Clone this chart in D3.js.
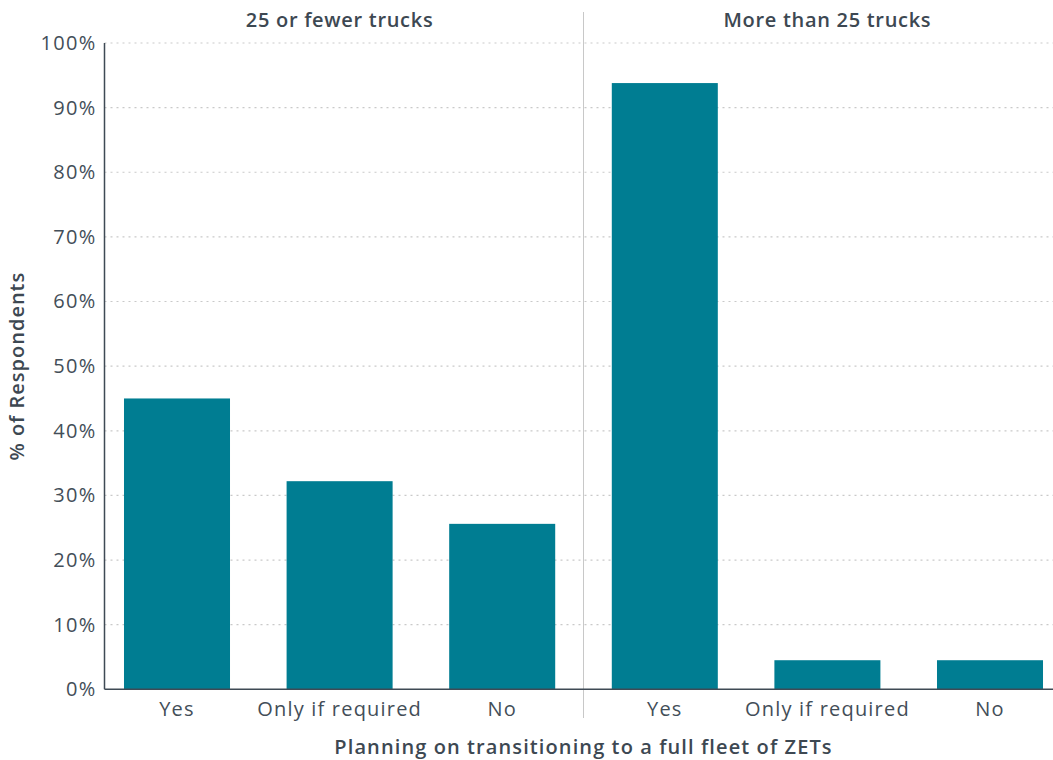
<!DOCTYPE html>
<html><head><meta charset="utf-8">
<script src="https://cdn.jsdelivr.net/npm/d3@7/dist/d3.min.js"></script>
<style>body{margin:0;background:#fff}svg{display:block}text{font-family:"Open Sans",sans-serif}</style>
</head><body><svg id="c" width="1053" height="760"></svg>
<script>
const groups = ["25 or fewer trucks", "More than 25 trucks"];
const answers = ["Yes", "Only if required", "No"];
const valuesSmall = [45.0, 32.2, 25.6];
const valuesLarge = [93.8, 4.5, 4.5];
const yTicks = [0,10,20,30,40,50,60,70,80,90,100];

const data = [];
groups.forEach((g,gi)=>answers.forEach((a,ai)=>data.push({g, a, key:g+"|"+a, v: gi===0?valuesSmall[ai]:valuesLarge[ai]})));

const svg = d3.select("#c");
const W = 1053, H = 760;
const x0 = 104.5, plotTop = 43, plotBottom = 689.3;
const textCol = "#434e58", boldCol = "#3d4852";
const x = d3.scaleBand().domain(data.map(d=>d.key)).range([95.7, 1071.3]).paddingInner(0.348).paddingOuter(0.174);
const y = d3.scaleLinear().domain([0,100]).range([plotBottom, plotTop]);

// gridlines
svg.append("g").selectAll("line").data(yTicks.filter(t=>t>0)).join("line")
  .attr("x1", x0).attr("x2", W).attr("y1", d=>y(d)).attr("y2", d=>y(d))
  .attr("stroke", "#c9c9c9").attr("stroke-width", 1.2).attr("stroke-dasharray", "2,4");

// separator
const sepX = (x(data[2].key)+x.bandwidth() + x(data[3].key))/2;
svg.append("line").attr("x1", sepX).attr("x2", sepX).attr("y1", 12).attr("y2", 718)
  .attr("stroke", "#c8c8c8").attr("stroke-width", 1);

// bars
svg.append("g").selectAll("rect").data(data).join("rect")
  .attr("x", d=>x(d.key)).attr("width", x.bandwidth())
  .attr("y", d=>y(d.v)).attr("height", d=>plotBottom - y(d.v))
  .attr("fill", "#007d92");

// y axis
const ya = svg.append("g").attr("transform", `translate(${x0},0)`)
  .call(d3.axisLeft(y).tickValues(yTicks).tickFormat(d=>d+"%").tickSize(0).tickPadding(8));
ya.select(".domain").attr("stroke", "#3f4a55").attr("stroke-width", 1.5).attr("d", `M0,${plotTop}V${plotBottom}`);
ya.selectAll("text").attr("font-size", 20).attr("letter-spacing", "1.3px").attr("fill", textCol).attr("font-family", "'Open Sans',sans-serif");

// x axis
const xa = svg.append("g").attr("transform", `translate(0,${plotBottom})`)
  .call(d3.axisBottom(x).tickFormat(k=>k.split("|")[1]).tickSize(0).tickPadding(13));
xa.select(".domain").attr("stroke", "#3f4a55").attr("stroke-width", 1.5).attr("d", `M${x0},0H${W}`);
xa.selectAll("text").attr("font-size", 20).attr("letter-spacing", "1.2px").attr("fill", textCol).attr("font-family", "'Open Sans',sans-serif");

// group titles
groups.forEach((g,gi)=>{
  const k = data[gi*3+1].key;
  svg.append("text").attr("x", x(k)+x.bandwidth()/2).attr("y", 27).attr("text-anchor","middle")
    .attr("font-size", 20).attr("letter-spacing", "0.7px").attr("font-weight", 600).attr("fill", boldCol).text(g);
});

// axis titles
svg.append("text").attr("x", sepX).attr("y", 754).attr("text-anchor","middle")
  .attr("font-size", 20).attr("letter-spacing", "1.1px").attr("font-weight", 600).attr("fill", boldCol)
  .text("Planning on transitioning to a full fleet of ZETs");
svg.append("text").attr("transform", `translate(24,${(plotTop+plotBottom)/2}) rotate(-90)`).attr("text-anchor","middle")
  .attr("font-size", 20).attr("letter-spacing", "1px").attr("font-weight", 600).attr("fill", boldCol)
  .text("% of Respondents");
</script></body></html>
